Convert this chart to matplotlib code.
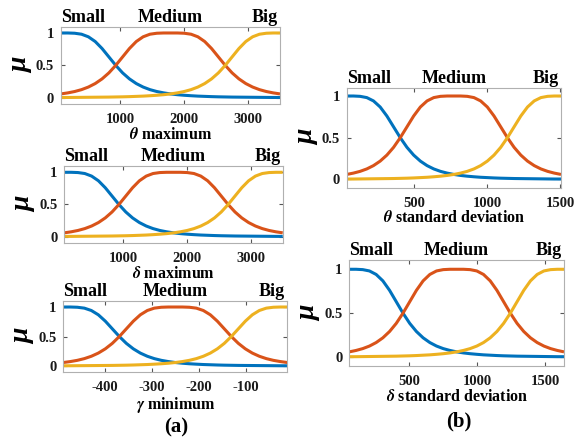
"""
Fuzzy membership functions (Small / Medium / Big) for five features,
drawn in a MATLAB-like style.
"""

import matplotlib

matplotlib.use("Agg")
import matplotlib.pyplot as plt
import numpy as np

SMALL_MU = [1.000, 1.000, 0.996, 0.981, 0.941, 0.868, 0.760, 0.630, 0.500,
            0.384, 0.291, 0.219, 0.165, 0.125, 0.096, 0.075, 0.059, 0.047,
            0.038, 0.031, 0.025, 0.021, 0.017, 0.014, 0.012, 0.010, 0.009,
            0.008, 0.007, 0.006, 0.005, 0.004, 0.004]
MEDIUM_MU = [0.059, 0.075, 0.096, 0.125, 0.165, 0.219, 0.291, 0.384, 0.500,
             0.630, 0.760, 0.868, 0.941, 0.981, 0.996, 1.000, 1.000, 1.000,
             0.996, 0.981, 0.941, 0.868, 0.760, 0.630, 0.500, 0.384, 0.291,
             0.219, 0.165, 0.125, 0.096, 0.075, 0.059]
BIG_MU = [0.004, 0.004, 0.005, 0.006, 0.007, 0.008, 0.009, 0.010, 0.012,
          0.014, 0.017, 0.021, 0.025, 0.031, 0.038, 0.047, 0.059, 0.075,
          0.096, 0.125, 0.165, 0.219, 0.291, 0.384, 0.500, 0.630, 0.760,
          0.868, 0.941, 0.981, 0.996, 1.000, 1.000]

SET_NAMES = ["Small", "Medium", "Big"]

# one entry per panel: x-label, x-range, x-ticks
PANEL_LABELS = [r"$\theta$ maximum", r"$\delta$ maximum", r"$\gamma$ minimum",
                r"$\theta$ standard deviation", r"$\delta$ standard deviation"]
PANEL_RANGES = [(80, 3500), (80, 3500), (-488, -12), (37, 1505), (59, 1637)]
PANEL_XTICKS = [[1000, 2000, 3000], [1000, 2000, 3000],
                [-400, -300, -200, -100], [500, 1000, 1500], [500, 1000, 1500]]

COLORS = ["#0072BD", "#D95319", "#EDB120"]

# axes boxes in figure fractions [left, bottom, width, height]
BOXES = [
    [0.1048, 0.7637, 0.3763, 0.1762],
    [0.1105, 0.4488, 0.3753, 0.1751],
    [0.1088, 0.1567, 0.3849, 0.1605],
    [0.5957, 0.5744, 0.3682, 0.2268],
    [0.6002, 0.1705, 0.3689, 0.2388],
]


def main() -> None:
    plt.rcParams["font.family"] = "Liberation Serif"
    plt.rcParams["font.weight"] = "bold"
    plt.rcParams["mathtext.fontset"] = "stix"
    plt.rcParams["axes.unicode_minus"] = False

    fig = plt.figure(figsize=(5.82, 4.41), dpi=100)
    curves = [SMALL_MU, MEDIUM_MU, BIG_MU]

    for box, label, (lo, hi), xt in zip(BOXES, PANEL_LABELS, PANEL_RANGES, PANEL_XTICKS):
        ax = fig.add_axes(box)
        x = np.linspace(lo, hi, len(SMALL_MU))
        for mu, c in zip(curves, COLORS):
            ax.plot(x, mu, color=c, linewidth=2.2, solid_capstyle="butt")
        ax.set_xlim(lo, hi)
        ax.set_ylim(-0.1, 1.1)
        ax.set_xticks(xt)
        ax.set_yticks([0, 0.5, 1])
        ax.set_yticklabels(["0", "0.5", "1"])
        for s in ax.spines.values():
            s.set_color("#b0b0b0")
            s.set_linewidth(0.8)
        ax.tick_params(direction="in", length=3, width=0.8, color="#555555",
                       top=True, right=True, labelsize=10.5, labelcolor="#1a1a1a")
        ax.tick_params(axis="x", pad=6.5)
        ax.tick_params(axis="y", pad=5)
        ax.set_xlabel(label, fontsize=11.5, fontweight="bold", labelpad=0.5)
        ax.set_ylabel("\u03bc", fontsize=20, fontstyle="italic", fontweight="bold",
                      labelpad=2, rotation=90)

        ax.text(0.0, 1.01, SET_NAMES[0], transform=ax.transAxes, ha="left",
                va="bottom", fontsize=13, fontweight="bold")
        ax.text(0.5, 1.01, SET_NAMES[1], transform=ax.transAxes, ha="center",
                va="bottom", fontsize=13, fontweight="bold")
        ax.text(0.99, 1.01, SET_NAMES[2], transform=ax.transAxes, ha="right",
                va="bottom", fontsize=13, fontweight="bold")

    fig.text(176 / 582, 1 - 427 / 441, "(a)", ha="center", va="center",
             fontsize=15, fontweight="bold")
    fig.text(459 / 582, 1 - 421 / 441, "(b)", ha="center", va="center",
             fontsize=15, fontweight="bold")

    fig.savefig("out.png", dpi=100)


if __name__ == "__main__":
    main()
